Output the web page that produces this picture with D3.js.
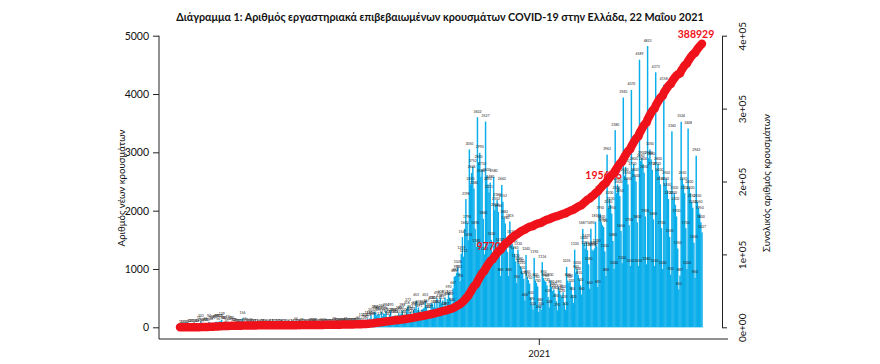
<!DOCTYPE html>
<html><head><meta charset="utf-8">
<script src="https://cdn.jsdelivr.net/npm/d3@7"></script>
<style>body{margin:0;background:#fff;} svg{display:block;font-family:Lato,"Open Sans",sans-serif;}</style>
</head><body>
<svg id="c" width="880" height="364"></svg>
<script>
// ---- data (daily new cases, one value per day from 26 Feb 2020) ----
const startDate = "2020-02-26";
const feb2020 = [1,2,0,4];
const mar2020 = [0,0,0,2,22,14,21,7,0,16,10,18,73,38,103,21,35,31,46,31,35,94,71,48,78,71,74,95,95,56,102];
const apr2020 = [101,129,69,60,62,20,77,52,71,56,70,33,31,25,22,15,17,11,10,156,7,55,27,16,11,17,32,10,15,21];
const may2020 = [7,12,9,4,2,10,16,10,10,5,1,18,3,7,11,6,10,12,7,4,21,15,18,6,7,7,8,7,3,1,13];
const jun2020 = [7,3,2,15,44,20,10,1,10,29,13,13,6,4,14,12,11,25,26,12,28,34,12,5,7,19,25,15,10,26];
const jul2020 = [12,14,13,20,20,16,7,40,26,33,23,28,21,29,36,24,28,41,25,24,39,32,26,37,28,31,27,52,57,34,33];
const aug2020 = [110,75,37,124,80,153,124,151,203,126,150,262,254,205,230,217,129,269,191,235,228,284,169,142,209,293,168,194,198,163,89];
const sep2020 = [163,241,211,237,288,169,132,210,318,372,220,262,168,221,301,319,453,291,339,271,173,306,317,338,453,357,262,290,247,411];
const oct2020 = [410,346,416,335,494,339,434,508,413,460,308,512,297,484,590,507,469,380,667,865,882,935,1026,933,790,1259,1547,1211,1690,2198,1790];
const nov2020 = [1494,3050,2450,2646,2752,2380,1690,1380,3602,2830,2990,2580,2710,1860,1250,3527,2600,2450,2311,2480,1500,1070,2580,2010,2102,2180,1980,1410,880,2440];
const dec2020 = [2152,1882,1780,1395,1290,880,1815,1535,1430,1380,1260,1130,760,1330,1080,1040,1010,930,830,460,1240,860,810,750,500,390,300,1190,800,760,700];
const jan2021 = [262,380,300,1116,850,800,780,720,520,340,800,690,620,650,580,450,290,690,620,560,520,600,420,300,1035,800,760,790,700,560,420];
const feb2021 = [1330,940,1000,900,830,720,560,1687,1440,1350,1470,1320,1080,660,1690,1330,1310,1350,1810,1390,690,2300,1950,1800,1750,1720,1300,880];
const mar2021 = [2962,2050,2200,2100,1950,1480,1000,3380,2300,2450,2400,2250,1650,1100,3940,2600,2750,2550,2450,1750,1050,4070,2700,2800,2600,2500,1800,1050,4589,2850,2900];
const apr2021 = [2800,2650,1900,1080,4823,2900,3050,2880,2700,1850,1050,4373,2700,2800,2600,2450,1700,1000,4158,2450,2550,2350,2200,1550,900,3360,2200,2300,2100,1900];
const may2021 = [1350,650,887,3524,2550,2450,2300,1700,1000,3408,2400,2300,2150,2050,1450,850,2942,2150,2050,1950,1800,1627];

const annotDates = ["2020-11-24","2021-02-26","2021-05-22"];
const leftTicks = [0,1000,2000,3000,4000,5000];
const rightTicks = [0,100000,200000,300000,400000];
const rightTickLabels = ["0e+00","1e+05","2e+05","3e+05","4e+05"];
const xTickDates = ["2021-01-01"];
const xTickLabels = ["2021"];
const titleText = "Διάγραμμα 1: Αριθμός εργαστηριακά επιβεβαιωμένων κρουσμάτων COVID-19 στην Ελλάδα, 22 Μαΐου 2021";
const yLabelLeft = "Αριθμός νέων κρουσμάτων";
const yLabelRight = "Συνολικός αριθμός κρουσμάτων";

// ---- build ----
const daily = [].concat(feb2020,mar2020,apr2020,may2020,jun2020,jul2020,aug2020,sep2020,oct2020,nov2020,dec2020,jan2021,feb2021,mar2021,apr2021,may2021);
const t0 = new Date(startDate + "T00:00:00Z");
const dates = daily.map((d,i)=>d3.utcDay.offset(t0,i));
const cum = Array.from(d3.cumsum(daily));
const pd = s => new Date(s + "T00:00:00Z");

const svg = d3.select("#c");
const x = d3.scaleUtc().domain([dates[0], dates[dates.length-1]]).range([180,702]);
const yL = d3.scaleLinear().domain([0,5000]).range([327.3,35.7]);
const yR = d3.scaleLinear().domain([0,400000]).range([327.3,35.7]);
const step = (x.range()[1]-x.range()[0])/(daily.length-1);
const BLUE = "#0aaeea", RED = "#f0121a";

function fit(sel, w){
  const L = sel.node().getComputedTextLength();
  const fs = parseFloat(sel.attr("font-size"));
  sel.attr("font-size", fs*w/L);
}

// bars
svg.append("g").selectAll("rect").data(daily).join("rect")
  .attr("x",(d,i)=>x(dates[i])-step/2-0.15)
  .attr("width",step+0.3)
  .attr("y",d=>yL(d))
  .attr("height",d=>yL(0)-yL(d))
  .attr("fill",BLUE);

// value labels over bars
svg.append("g").selectAll("text").data(daily).join("text")
  .attr("x",(d,i)=>x(dates[i]))
  .attr("y",d=>yL(d)-4.5)
  .attr("text-anchor","middle")
  .attr("font-size",3.4)
  .attr("fill","#222")
  .text(d=>d);

// cumulative annotations (drawn under the line)
const ann = svg.append("g");
annotDates.forEach((s,k)=>{
  const i = d3.bisector(d=>d).left(dates, pd(s));
  ann.append("text")
    .attr("x", x(dates[i]) - (k===0?3:(i===daily.length-1?6:0)))
    .attr("y", yR(cum[i]) - 6)
    .attr("text-anchor","middle")
    .attr("font-size",10.5).attr("font-weight","bold")
    .attr("fill",RED)
    .text(cum[i]);
});

// cumulative line
svg.append("path").datum(cum)
  .attr("d", d3.line().x((d,i)=>x(dates[i])).y(d=>yR(d)))
  .attr("fill","none").attr("stroke",RED).attr("stroke-width",8.5)
  .attr("stroke-linecap","round").attr("stroke-linejoin","round");

// left axis
const gL = svg.append("g").attr("transform","translate(159,0)")
  .call(d3.axisLeft(yL).tickValues(leftTicks).tickSize(6).tickPadding(4).tickFormat(d3.format("d")));
gL.select(".domain").remove();
gL.selectAll("text").attr("font-size",10.5).attr("font-family","Lato,sans-serif").attr("fill","#111");
gL.selectAll("line").attr("stroke","#222");
svg.append("line").attr("x1",159).attr("x2",159).attr("y1",yL(5000)).attr("y2",339).attr("stroke","#222");

// bottom axis
svg.append("line").attr("x1",159).attr("x2",728).attr("y1",339).attr("y2",339).attr("stroke","#222");
const gB = svg.append("g").attr("transform","translate(0,339)")
  .call(d3.axisBottom(x).tickValues(xTickDates.map(pd)).tickSize(6).tickPadding(5).tickFormat((d,i)=>xTickLabels[i]));
gB.select(".domain").remove();
gB.selectAll("text").attr("font-size",9.5).attr("font-family","Lato,sans-serif").attr("fill","#111");
gB.selectAll("line").attr("stroke","#222");

// right axis
const gR = svg.append("g").attr("transform","translate(722,0)")
  .call(d3.axisRight(yR).tickValues(rightTicks).tickSize(5).tickSizeOuter(0).tickFormat((d,i)=>rightTickLabels[i]));
gR.select(".domain").attr("stroke","#222");
gR.selectAll("line").attr("stroke","#222");
gR.selectAll("text")
  .attr("font-size",10).attr("font-family","Lato,sans-serif").attr("fill","#111")
  .attr("text-anchor","middle").attr("dy",null).attr("x",null)
  .attr("transform","translate(20,0) rotate(-90)").attr("dominant-baseline","central");

// axis titles
const tl = svg.append("text").attr("transform","translate(121,188) rotate(-90)")
  .attr("text-anchor","middle").attr("dominant-baseline","central")
  .attr("font-size",10).attr("fill","#111").text(yLabelLeft);
fit(tl,117);
svg.append("text").attr("transform","translate(766,183) rotate(-90)")
  .attr("text-anchor","middle").attr("dominant-baseline","central")
  .attr("font-size",tl.attr("font-size")).attr("fill","#111").text(yLabelRight);

// title
const tt = svg.append("text").attr("x",440).attr("y",21).attr("text-anchor","middle")
  .attr("font-size",12).attr("font-weight","bold").attr("fill","#111").text(titleText);
fit(tt,528);
</script>
</body></html>
